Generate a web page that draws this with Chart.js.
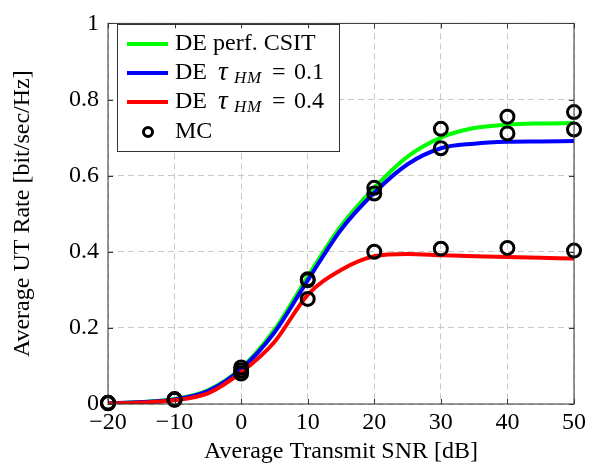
<!DOCTYPE html>
<html>
<head>
<meta charset="utf-8">
<script src="https://cdn.jsdelivr.net/npm/chart.js@4.4.0/dist/chart.umd.min.js"></script>
<style>
  html, body { margin: 0; padding: 0; background: #fff; }
</style>
</head>
<body>
<canvas id="ratechart" width="598" height="470"></canvas>
<script>
// DE curves (sampled every 5 dB)
var snr = [-20, -15, -10, -5, 0, 5, 10, 15, 20, 25, 30, 35, 40, 45, 50];
var perfCsit = [0.002, 0.005, 0.013, 0.036, 0.094, 0.195, 0.335, 0.468, 0.568, 0.650, 0.700, 0.725, 0.734, 0.737, 0.738];
var tau01 = [0.002, 0.005, 0.012, 0.034, 0.092, 0.188, 0.325, 0.458, 0.555, 0.630, 0.672, 0.684, 0.689, 0.690, 0.691];
var tau04 = [0.001, 0.004, 0.010, 0.028, 0.083, 0.163, 0.287, 0.352, 0.388, 0.394, 0.391, 0.388, 0.386, 0.384, 0.382];

// Monte Carlo points
var mcSnr = [-20, -10, 0, 10, 20, 30, 40, 50];
var mcPerf = [0.003, 0.013, 0.096, 0.328, 0.568, 0.723, 0.755, 0.767];
var mcTau01 = [0.003, 0.012, 0.088, 0.325, 0.553, 0.672, 0.711, 0.721];
var mcTau04 = [0.002, 0.011, 0.080, 0.276, 0.400, 0.408, 0.410, 0.403];

var xTicks = [-20, -10, 0, 10, 20, 30, 40, 50];
var yTicks = [0, 0.2, 0.4, 0.6, 0.8, 1];

function pts(xs, ys) {
    return xs.map(function (x, i) { return { x: x, y: ys[i] }; });
}

var mcPoints = pts(mcSnr, mcPerf).concat(pts(mcSnr, mcTau01), pts(mcSnr, mcTau04));

var SERIF = "'Liberation Serif', 'Times New Roman', serif";
Chart.defaults.font.family = SERIF;
Chart.defaults.font.size = 24;
Chart.defaults.color = '#000';

// pgfplots-like framed legend inside the plot
var boxLegend = {
    id: 'boxLegend',
    afterDatasetsDraw: function (chart) {
        var c = chart.ctx;
        var x0 = 117.5, y0 = 24.5, w = 222, h = 127;
        c.save();
        c.fillStyle = '#fff';
        c.fillRect(x0, y0, w, h);
        c.strokeStyle = '#333';
        c.lineWidth = 1;
        c.strokeRect(x0, y0, w, h);

        // [text, style, x]
        var rows = [
            { color: '#00ff00', parts: [['DE perf. CSIT', 'n', 175]] },
            { color: '#0000ff', parts: [['DE', 'n', 175], ['\u03c4', 'i', 218], ['H', 's', 234], ['M', 's', 247], ['=', 'n', 272], ['0.1', 'n', 294]] },
            { color: '#ff0000', parts: [['DE', 'n', 175], ['\u03c4', 'i', 218], ['H', 's', 234], ['M', 's', 247], ['=', 'n', 272], ['0.4', 'n', 294]] },
            { mark: true, parts: [['MC', 'n', 175]] }
        ];
        var rowY = [44, 73, 102, 132];
        rows.forEach(function (r, i) {
            var y = rowY[i];
            if (r.mark) {
                c.beginPath();
                c.arc(148, y, 4.5, 0, Math.PI * 2);
                c.lineWidth = 3;
                c.strokeStyle = '#000';
                c.stroke();
            } else {
                c.beginPath();
                c.moveTo(127, y);
                c.lineTo(168, y);
                c.lineWidth = 4;
                c.strokeStyle = r.color;
                c.stroke();
            }
            c.fillStyle = '#000';
            c.textBaseline = 'middle';
            r.parts.forEach(function (p) {
                var f = '24px ' + SERIF;
                var dy = 0;
                if (p[1] === 'i') f = 'italic 27px ' + SERIF;
                if (p[1] === 's') { f = 'italic 17px ' + SERIF; dy = 6; }
                c.font = f;
                c.fillText(p[0], p[2], y + dy);
            });
        });
        c.restore();
    }
};

// frame and inward tick marks
var frameTicks = {
    id: 'frameTicks',
    afterDraw: function (chart) {
        var a = chart.chartArea, c = chart.ctx;
        var xs = chart.scales.x, ys = chart.scales.y;
        c.save();
        c.strokeStyle = '#333';
        c.lineWidth = 1;
        c.strokeRect(a.left, a.top, a.right - a.left, a.bottom - a.top);
        c.beginPath();
        xTicks.forEach(function (v) {
            var px = Math.round(xs.getPixelForValue(v)) + 0.5;
            c.moveTo(px, a.bottom); c.lineTo(px, a.bottom - 5);
            c.moveTo(px, a.top); c.lineTo(px, a.top + 5);
        });
        yTicks.forEach(function (v) {
            var py = Math.round(ys.getPixelForValue(v)) + 0.5;
            c.moveTo(a.left, py); c.lineTo(a.left + 5, py);
            c.moveTo(a.right, py); c.lineTo(a.right - 5, py);
        });
        c.stroke();
        c.restore();
    }
};

var ctx = document.getElementById('ratechart').getContext('2d');
var chart = new Chart(ctx, {
    type: 'line',
    data: {
        datasets: [{
            label: 'MC',
            data: mcPoints,
            showLine: false,
            pointRadius: 6.5,
            pointBorderWidth: 3,
            pointBorderColor: '#000',
            pointBackgroundColor: 'rgba(0,0,0,0)',
            clip: false,
            order: 0
        }, {
            label: 'DE tau 0.4',
            data: pts(snr, tau04),
            borderColor: '#ff0000',
            borderWidth: 4,
            pointRadius: 0,
            cubicInterpolationMode: 'monotone',
            order: 1
        }, {
            label: 'DE tau 0.1',
            data: pts(snr, tau01),
            borderColor: '#0000ff',
            borderWidth: 4,
            pointRadius: 0,
            cubicInterpolationMode: 'monotone',
            order: 2
        }, {
            label: 'DE perf. CSIT',
            data: pts(snr, perfCsit),
            borderColor: '#00ff00',
            borderWidth: 4,
            pointRadius: 0,
            cubicInterpolationMode: 'monotone',
            order: 3
        }]
    },
    options: {
        responsive: false,
        animation: false,
        layout: { padding: { left: 0, right: 24, top: 17, bottom: 0 } },
        plugins: { legend: { display: false }, tooltip: { enabled: false } },
        scales: {
            x: {
                type: 'linear',
                min: -20,
                max: 50,
                afterFit: function (s) { s.height = 66; },
                afterBuildTicks: function (s) { s.ticks = xTicks.map(function (v) { return { value: v }; }); },
                ticks: {
                    padding: 4,
                    maxRotation: 0,
                    callback: function (v) { return v < 0 ? '\u2212' + Math.abs(v) : String(v); }
                },
                grid: { color: '#c8c8c8', drawTicks: false, lineWidth: 1 },
                border: { display: false, dash: [6, 4] },
                title: { display: true, text: 'Average Transmit SNR [dB]', padding: { top: 0, bottom: 4 } }
            },
            y: {
                min: 0,
                max: 1,
                afterFit: function (s) { s.width = 108; },
                afterBuildTicks: function (s) { s.ticks = yTicks.map(function (v) { return { value: v }; }); },
                ticks: {
                    padding: 9,
                    callback: function (v) { return String(Number(v.toFixed(1))); }
                },
                grid: { color: '#c8c8c8', drawTicks: false, lineWidth: 1 },
                border: { display: false, dash: [6, 4] },
                title: { display: true, text: 'Average UT Rate [bit/sec/Hz]', padding: { top: 8, bottom: 0 } }
            }
        }
    },
    plugins: [boxLegend, frameTicks]
});
</script>
</body>
</html>
